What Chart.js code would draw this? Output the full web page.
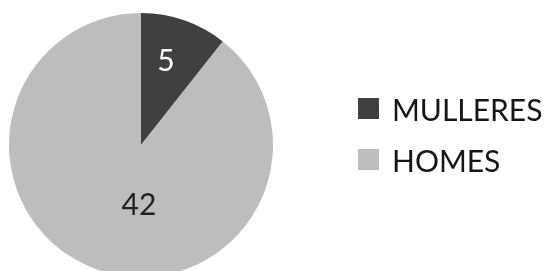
<!DOCTYPE html>
<html lang="gl">
<head>
    <meta charset="UTF-8">
    <title>Mulleres e homes</title>
    <style>
        html, body { margin: 0; padding: 0; background: #fff; overflow: hidden; }
        body { width: 545px; height: 271px; position: relative; }
        #grafico { position: absolute; left: 0; top: 0; }
        .lenda { position: absolute; left: 358px; top: 83px; font-family: Lato, "Open Sans", sans-serif; color: #161616; }
        .lenda-item { display: flex; align-items: center; height: 51px; font-size: 30px; }
        .lenda-cadro { width: 21px; height: 21px; margin-right: 13px; }
    </style>
</head>
<body>
    <canvas id="grafico" width="545" height="290"></canvas>
    <div class="lenda" id="lenda"></div>

    <script src="https://cdn.jsdelivr.net/npm/chart.js"></script>
    <script>
        // Datos
        const categorias = ['MULLERES', 'HOMES'];
        const valores = [5, 42];
        const cores = ['#404040', '#bdbdbd'];
        const coresTexto = ['#ffffff', '#222222'];

        // posición das etiquetas (fracción do raio e ángulo en graos desde arriba)
        const etiquetaRaio = [0.66, 0.46];
        const etiquetaAngulo = [16.6, 182];

        const pluginEtiquetas = {
            id: 'etiquetas',
            afterDatasetsDraw(chart) {
                const ctx = chart.ctx;
                const meta = chart.getDatasetMeta(0);
                ctx.save();
                ctx.font = '30px Lato, "Open Sans", sans-serif';
                ctx.textAlign = 'center';
                ctx.textBaseline = 'middle';
                meta.data.forEach((arco, i) => {
                    const a = etiquetaAngulo[i] * Math.PI / 180;
                    const r = arco.outerRadius * etiquetaRaio[i];
                    ctx.fillStyle = coresTexto[i];
                    ctx.fillText(String(valores[i]), arco.x + Math.sin(a) * r, arco.y - Math.cos(a) * r);
                });
                ctx.restore();
            }
        };

        const ctxPizza = document.getElementById('grafico').getContext('2d');
        const grafico = new Chart(ctxPizza, {
            type: 'pie',
            data: {
                labels: categorias,
                datasets: [{
                    data: valores,
                    backgroundColor: cores,
                    borderWidth: 0
                }]
            },
            options: {
                responsive: false,
                maintainAspectRatio: false,
                animation: false,
                layout: { padding: { left: 9, right: 272, top: 13, bottom: 13 } },
                plugins: {
                    legend: { display: false },
                    tooltip: { enabled: false }
                }
            },
            plugins: [pluginEtiquetas]
        });

        // Lenda
        const lenda = document.getElementById('lenda');
        categorias.forEach((c, i) => {
            const item = document.createElement('div');
            item.className = 'lenda-item';
            const cadro = document.createElement('span');
            cadro.className = 'lenda-cadro';
            cadro.style.background = cores[i];
            item.appendChild(cadro);
            item.appendChild(document.createTextNode(c));
            lenda.appendChild(item);
        });
    </script>
</body>
</html>
